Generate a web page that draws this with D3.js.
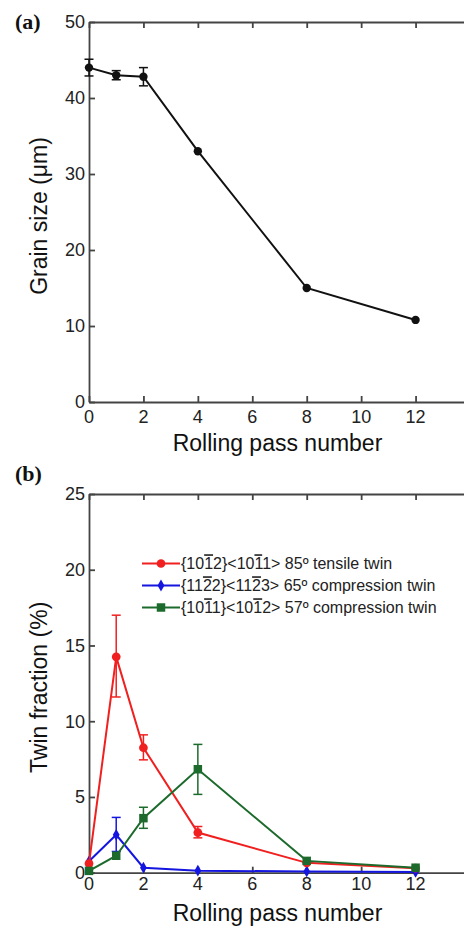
<!DOCTYPE html>
<html>
<head>
<meta charset="utf-8">
<script src="https://cdn.jsdelivr.net/npm/d3@7"></script>
<style>
  body { margin: 0; background: #fff; }
  svg { display: block; font-family: "Liberation Sans", Arial, sans-serif; }
</style>
</head>
<body>
<div id="chart"></div>
<script>
// rolling pass numbers shared by both panels
const passes = [0, 1, 2, 4, 8, 12];

// (a) grain size, um, with error half-widths
const grainSize = [44.0, 43.0, 42.8, 33.0, 15.0, 10.8];
const grainErr = [1.1, 0.6, 1.2, 0, 0, 0];

// (b) twin fractions, %
const tensile = [0.6, 14.25, 8.25, 2.65, 0.65, 0.3];
const tensileLo = [0.6, 11.6, 7.45, 2.3, 0.65, 0.3];
const tensileHi = [0.6, 17.0, 9.1, 3.05, 0.65, 0.3];

const comp65 = [0.75, 2.5, 0.33, 0.13, 0.08, 0.05];
const comp65Lo = [0.75, 1.4, 0.33, 0.13, 0.08, 0.05];
const comp65Hi = [0.75, 3.65, 0.33, 0.13, 0.08, 0.05];

const comp57 = [0.12, 1.12, 3.6, 6.83, 0.78, 0.33];
const comp57Lo = [0.12, 1.12, 2.93, 5.17, 0.78, 0.33];
const comp57Hi = [0.12, 1.12, 4.32, 8.47, 0.78, 0.33];

// legend names; a combining overline (U+0305) marks a barred index
const twinNames = [
  "{101\u03052}<101\u03051> 85\u00ba tensile twin",
  "{112\u03052}<112\u03053> 65\u00ba compression twin",
  "{101\u03051}<101\u03052> 57\u00ba compression twin"
];
const twinColors = ["#f02020", "#1515e0", "#1c6b2c"];

const xTicks = [0, 2, 4, 6, 8, 10, 12, 14];
const grainTicks = [0, 10, 20, 30, 40, 50];
const twinTicks = [0, 5, 10, 15, 20, 25];

const W = 464, H = 929;
const svg = d3.select("#chart").append("svg").attr("width", W).attr("height", H);

const left = 89, right = 470;
const axisColor = "#444";

function panel(top, bottom, yMax, yTicks, yTitle, tag, tagY, tickDy, titleY) {
  const x = d3.scaleLinear().domain([0, 14]).range([left, right]);
  const y = d3.scaleLinear().domain([0, yMax]).range([bottom, top]);
  const g = svg.append("g");

  // frame with inward ticks on all sides
  const ax = [
    d3.axisBottom(x).tickValues(xTicks).tickSizeInner(-6).tickSizeOuter(0).tickFormat(""),
    d3.axisTop(x).tickValues(xTicks).tickSizeInner(-6).tickSizeOuter(0).tickFormat(""),
    d3.axisLeft(y).tickValues(yTicks).tickSizeInner(-6).tickSizeOuter(0).tickFormat(""),
    d3.axisRight(y).tickValues(yTicks).tickSizeInner(-6).tickSizeOuter(0).tickFormat("")
  ];
  const pos = [`translate(0,${bottom})`, `translate(0,${top})`, `translate(${left},0)`, `translate(${right},0)`];
  ax.forEach((a, i) => {
    const ag = g.append("g").attr("transform", pos[i]).call(a);
    ag.selectAll("path,line").attr("stroke", axisColor).attr("stroke-width", 1.8);
  });

  // tick labels
  g.selectAll(".xl").data(xTicks.filter(d => d <= 12)).join("text")
    .attr("x", d => x(d)).attr("y", bottom + tickDy)
    .attr("text-anchor", "middle").attr("font-size", 18).attr("fill", "#222")
    .text(d => d);
  g.selectAll(".yl").data(yTicks).join("text")
    .attr("x", left - 4).attr("y", d => y(d)).attr("dy", "0.36em")
    .attr("text-anchor", "end").attr("font-size", 18).attr("fill", "#222")
    .text(d => d);

  g.append("text").attr("x", (left + right) / 2 - 2).attr("y", titleY)
    .attr("text-anchor", "middle").attr("font-size", 23).attr("fill", "#111")
    .text("Rolling pass number");
  g.append("text")
    .attr("transform", `translate(47,${(top + bottom) / 2 + 4}) rotate(-90)`)
    .attr("text-anchor", "middle").attr("font-size", 23).attr("fill", "#111")
    .text(yTitle);
  g.append("text").attr("x", 15).attr("y", tagY)
    .attr("font-family", "Liberation Serif, serif").attr("font-weight", "bold")
    .attr("font-size", 22).attr("fill", "#111").text(tag);

  return { x, y, g };
}

function errorBars(p, color, lo, hi) {
  const d = passes.map((v, i) => ({ v, lo: lo[i], hi: hi[i] })).filter(e => e.hi - e.lo > 0.05);
  const eg = p.g.append("g").attr("stroke", color).attr("stroke-width", 1.5);
  eg.selectAll(".v").data(d).join("line")
    .attr("x1", e => p.x(e.v)).attr("x2", e => p.x(e.v))
    .attr("y1", e => p.y(e.lo)).attr("y2", e => p.y(e.hi));
  ["lo", "hi"].forEach(k => {
    eg.selectAll(".c" + k).data(d).join("line")
      .attr("x1", e => p.x(e.v) - 4.5).attr("x2", e => p.x(e.v) + 4.5)
      .attr("y1", e => p.y(e[k])).attr("y2", e => p.y(e[k]));
  });
}

// ---- panel (a)
const pa = panel(22, 402, 50, grainTicks, "Grain size (\u03bcm)", "(a)", 29, 21, 451);
errorBars(pa, "#111", grainSize.map((v, i) => v - grainErr[i]), grainSize.map((v, i) => v + grainErr[i]));
pa.g.append("path").datum(passes.map((v, i) => [v, grainSize[i]]))
  .attr("fill", "none").attr("stroke", "#111").attr("stroke-width", 2)
  .attr("d", d3.line().x(d => pa.x(d[0])).y(d => pa.y(d[1])));
pa.g.selectAll(".pt").data(passes.map((v, i) => [v, grainSize[i]])).join("circle")
  .attr("cx", d => pa.x(d[0])).attr("cy", d => pa.y(d[1])).attr("r", 4.2).attr("fill", "#111");

// ---- panel (b)
const pb = panel(494, 872.7, 25, twinTicks, "Twin fraction (%)", "(b)", 481, 17, 921);
const series = [
  { v: tensile, lo: tensileLo, hi: tensileHi, shape: d3.symbolCircle, size: 60 },
  { v: comp65, lo: comp65Lo, hi: comp65Hi, shape: d3.symbolDiamond, size: 40 },
  { v: comp57, lo: comp57Lo, hi: comp57Hi, shape: d3.symbolSquare, size: 72 }
];
const order = [1, 0, 2];
order.forEach(si => {
  const s = series[si], c = twinColors[si];
  errorBars(pb, c, s.lo, s.hi);
  pb.g.append("path").datum(passes.map((p, i) => [p, s.v[i]]))
    .attr("fill", "none").attr("stroke", c).attr("stroke-width", 2)
    .attr("d", d3.line().x(d => pb.x(d[0])).y(d => pb.y(d[1])));
  pb.g.selectAll(null).data(passes.map((p, i) => [p, s.v[i]])).join("path")
    .attr("transform", d => `translate(${pb.x(d[0])},${pb.y(d[1])})`)
    .attr("d", d3.symbol().type(s.shape).size(s.size)).attr("fill", c);
});

// legend
const lg = svg.append("g");
twinNames.forEach((name, i) => {
  const yy = 563.5 + i * 22;
  const s = series[i], c = twinColors[i];
  lg.append("line").attr("x1", 142).attr("x2", 180).attr("y1", yy).attr("y2", yy)
    .attr("stroke", c).attr("stroke-width", 1.8);
  lg.append("path").attr("transform", `translate(161,${yy})`)
    .attr("d", d3.symbol().type(s.shape).size(s.size)).attr("fill", c);
  const t = lg.append("text").attr("x", 181).attr("y", yy).attr("dy", "0.36em")
    .attr("font-size", 16).attr("fill", "#222");
  // split text so that barred digits get an overline
  const chars = Array.from(name);
  let buf = "";
  chars.forEach((ch, k) => {
    if (chars[k + 1] === "\u0305") {
      if (buf) { t.append("tspan").text(buf); buf = ""; }
      t.append("tspan").style("text-decoration", "overline").text(ch);
    } else if (ch !== "\u0305") {
      buf += ch;
    }
  });
  if (buf) t.append("tspan").text(buf);
});
</script>
</body>
</html>
